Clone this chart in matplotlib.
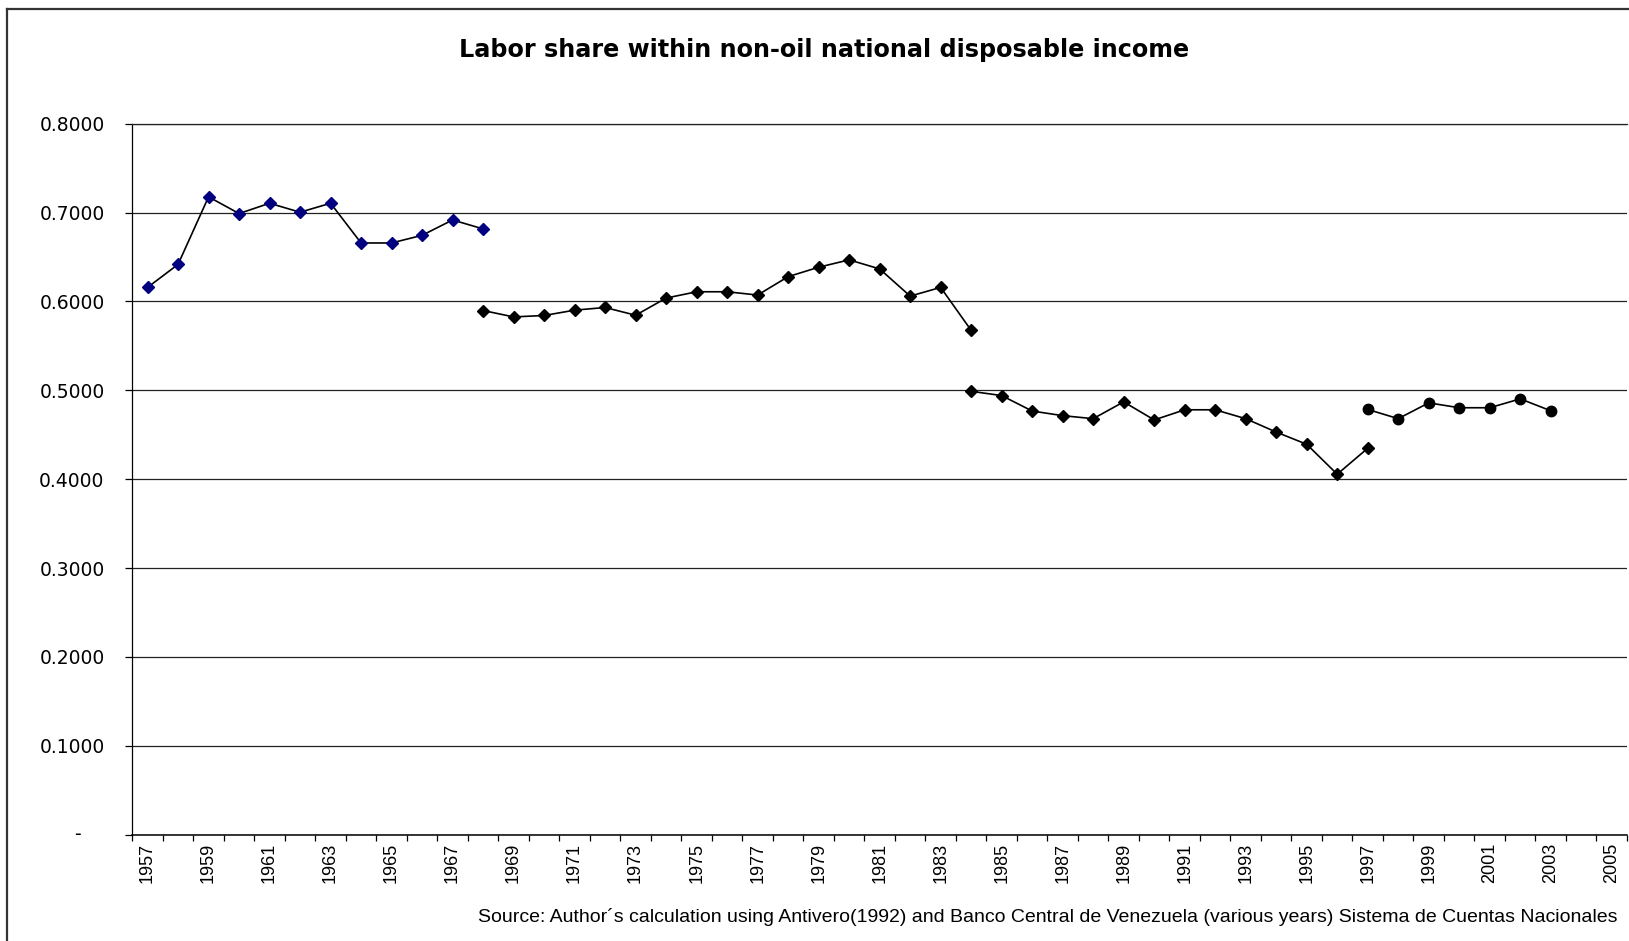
import matplotlib
matplotlib.use("Agg")
import matplotlib.pyplot as plt
from matplotlib.lines import Line2D
import numpy as np

# Labor share of non-oil national disposable income, by year
years_a = [1957, 1958, 1959, 1960, 1961, 1962, 1963, 1964, 1965, 1966, 1967, 1968]
share_a = [0.6158, 0.6417, 0.7177, 0.6989, 0.7105, 0.7004, 0.7105, 0.6658,
           0.6658, 0.6744, 0.6917, 0.6816]

years_b = [1968, 1969, 1970, 1971, 1972, 1973, 1974, 1975, 1976, 1977, 1978,
           1979, 1980, 1981, 1982, 1983, 1984]
share_b = [0.5898, 0.5826, 0.5842, 0.5902, 0.5932, 0.5845, 0.6038, 0.6109,
           0.6109, 0.6072, 0.6279, 0.6385, 0.6468, 0.6366, 0.6060, 0.6158, 0.5675]

years_c = [1984, 1985, 1986, 1987, 1988, 1989, 1990, 1991, 1992, 1993, 1994,
           1995, 1996, 1997]
share_c = [0.4989, 0.4941, 0.4767, 0.4715, 0.4681, 0.4870, 0.4667, 0.4781,
           0.4781, 0.4681, 0.4530, 0.4393, 0.4056, 0.4348]

years_d = [1997, 1998, 1999, 2000, 2001, 2002, 2003]
share_d = [0.4785, 0.4681, 0.4859, 0.4804, 0.4804, 0.4904, 0.4770]

first_year = 1957
last_year = 2005
label_years = list(range(1957, 2006, 2))
x_labels = [str(y) for y in label_years]
y_values = [0.0, 0.1, 0.2, 0.3, 0.4, 0.5, 0.6, 0.7, 0.8]
y_labels = ["", "0.1000", "0.2000", "0.3000", "0.4000", "0.5000", "0.6000",
            "0.7000", "0.8000"]
zero_label = "-"

title = "Labor share within non-oil national disposable income"
source = ("Source: Author\u00b4s calculation using Antivero(1992) and Banco Central "
          "de Venezuela (various years) Sistema de Cuentas Nacionales")

W, H = 1629, 941
fig = plt.figure(figsize=(W / 100, H / 100), dpi=100)
fig.patch.set_facecolor("white")

left, right = 132.3 / W, 1627 / W
top, bottom = 1 - 123.7 / H, 1 - 834.7 / H
ax = fig.add_axes([left, bottom, right - left, top - bottom])


def pos(years):
    return np.asarray(years) - first_year + 0.5


line_kw = dict(color="black", lw=1.2, zorder=3)
ax.plot(pos(years_a), share_a, marker="D", ms=6, mfc="#000080", mec="#000080", **line_kw)
ax.plot(pos(years_b), share_b, marker="D", ms=6, mfc="black", mec="black", **line_kw)
ax.plot(pos(years_c), share_c, marker="D", ms=6, mfc="black", mec="black", **line_kw)
ax.plot(pos(years_d), share_d, marker="o", ms=7.5, mfc="black", mec="black", **line_kw)

n_cat = last_year - first_year + 1
ax.set_xlim(0, n_cat)
ax.set_ylim(0, 0.8)

# category boundaries as tick marks, year labels at category centres
ax.set_xticks(np.arange(0, n_cat + 1))
ax.set_xticklabels([])
ax.tick_params(axis="x", which="major", direction="out", length=4.3, width=0.9, color="black")
ax.set_xticks(pos(label_years), minor=True)
ax.set_xticklabels(x_labels, minor=True, rotation=90, fontsize=13,
                   family="Liberation Sans")
ax.tick_params(axis="x", which="minor", length=0, pad=6)

ax.set_yticks(y_values)
ax.set_yticklabels(y_labels, fontsize=13.5, family="DejaVu Sans")
ax.tick_params(axis="y", direction="out", length=5, width=0.9, color="black", pad=15)
ax.text(-0.037, 0.0, zero_label, transform=ax.get_yaxis_transform(),
        ha="center", va="center", fontsize=13.5, family="DejaVu Sans")

ax.grid(axis="y", color="#222222", lw=0.9, zorder=1)
ax.set_axisbelow(True)
ax.spines["right"].set_visible(False)
ax.spines["top"].set_color("#222222")
ax.spines["top"].set_linewidth(0.9)
ax.spines["left"].set_linewidth(0.9)
ax.spines["bottom"].set_linewidth(1.1)

fig.text(824.5 / W, 1 - 57.3 / H, title, ha="center", va="baseline",
         fontsize=17.2, fontweight="bold", family="DejaVu Sans")
fig.text(478 / W, 1 - 921.7 / H, source, ha="left", va="baseline",
         fontsize=14.0, family="Liberation Sans")

# chart-area frame along the left and top edges
fig.add_artist(Line2D([7 / W, 7 / W], [-0.01, 1 - 9 / H], transform=fig.transFigure,
                      color="#333333", lw=1.6))
fig.add_artist(Line2D([7 / W, 1.01], [1 - 9 / H, 1 - 9 / H], transform=fig.transFigure,
                      color="#333333", lw=1.6))

fig.savefig("out.png", dpi=100, facecolor="white")
